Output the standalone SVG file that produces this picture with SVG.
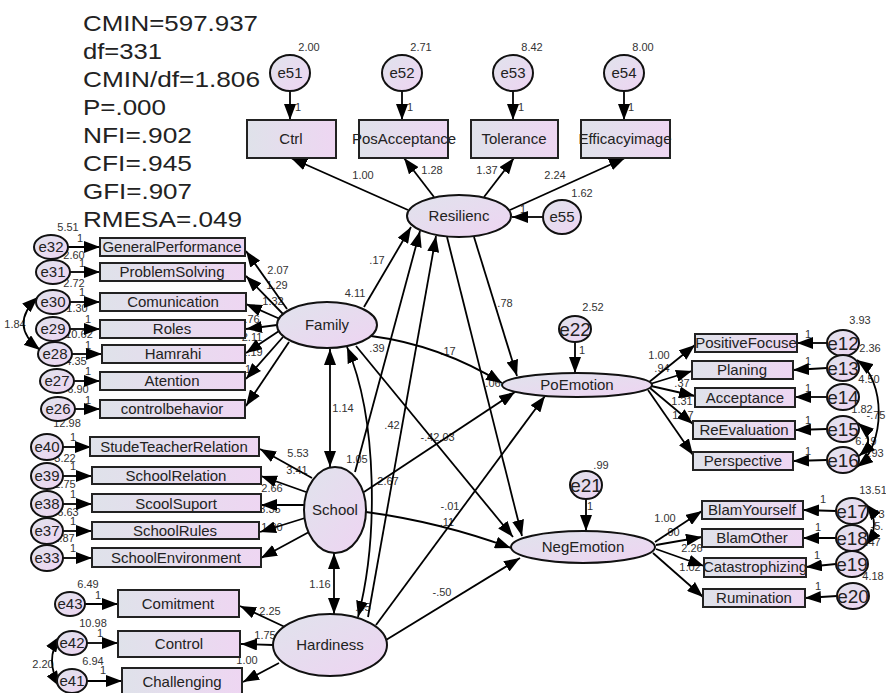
<svg xmlns="http://www.w3.org/2000/svg" width="886" height="693" viewBox="0 0 886 693">
<defs>
<linearGradient id="gb" x1="0" y1="0" x2="1" y2="0"><stop offset="0" stop-color="#dfe2ea"/><stop offset="1" stop-color="#eed6f2"/></linearGradient>
<linearGradient id="ge" x1="0" y1="0" x2="1" y2="1"><stop offset="0" stop-color="#e0e3ec"/><stop offset="1" stop-color="#eed4f2"/></linearGradient>
<marker id="ah" markerUnits="userSpaceOnUse" markerWidth="16" markerHeight="12" refX="16" refY="6" orient="auto-start-reverse" viewBox="0 0 16 12"><path d="M0,0 L16,6 L0,12 z" fill="#000"/></marker>
<style>
.c{stroke:#000;stroke-width:1.8;fill:none;marker-end:url(#ah)}
.d{stroke:#000;stroke-width:1.8;fill:none;marker-end:url(#ah);marker-start:url(#ah)}
.b{fill:url(#gb);stroke:#222;stroke-width:2}
.e{fill:url(#ge);stroke:#111;stroke-width:2}
.t{font-family:"Liberation Sans",Arial,sans-serif;font-size:15px;fill:#222;text-anchor:middle}
.et{font-family:"Liberation Sans",Arial,sans-serif;font-size:15px;fill:#222;text-anchor:middle}
.er{font-family:"Liberation Sans",Arial,sans-serif;font-size:19px;fill:#222;text-anchor:middle}
.n{font-family:"Liberation Sans",Arial,sans-serif;font-size:11px;fill:#333;text-anchor:middle}
.s{font-family:"Liberation Sans",Arial,sans-serif;font-size:22.5px;fill:#222}
</style>
</defs>
<rect width="886" height="693" fill="#fff"/>

<g id="fit">
<text class="s" x="83" y="31" textLength="175" lengthAdjust="spacingAndGlyphs">CMIN=597.937</text>
<text class="s" x="83" y="59" textLength="79" lengthAdjust="spacingAndGlyphs">df=331</text>
<text class="s" x="83" y="87" textLength="177" lengthAdjust="spacingAndGlyphs">CMIN/df=1.806</text>
<text class="s" x="83" y="115" textLength="83" lengthAdjust="spacingAndGlyphs">P=.000</text>
<text class="s" x="83" y="143" textLength="109" lengthAdjust="spacingAndGlyphs">NFI=.902</text>
<text class="s" x="83" y="171" textLength="109" lengthAdjust="spacingAndGlyphs">CFI=.945</text>
<text class="s" x="83" y="199" textLength="109" lengthAdjust="spacingAndGlyphs">GFI=.907</text>
<text class="s" x="83" y="227" textLength="159" lengthAdjust="spacingAndGlyphs">RMESA=.049</text>
</g>

<g id="labels">
<text class="n" x="309" y="51">2.00</text><text class="n" x="421" y="51">2.71</text><text class="n" x="532" y="51">8.42</text><text class="n" x="643" y="51">8.00</text>
<text class="n" x="298" y="111">1</text><text class="n" x="410" y="111">1</text><text class="n" x="521" y="111">1</text><text class="n" x="631" y="111">1</text>
<text class="n" x="363" y="179">1.00</text><text class="n" x="432" y="174">1.28</text><text class="n" x="487" y="174">1.37</text><text class="n" x="555" y="179">2.24</text>
<text class="n" x="582" y="197">1.62</text><text class="n" x="523" y="213">1</text>
<text class="n" x="68" y="231">5.51</text>
<text class="n" x="80" y="242">1</text><text class="n" x="82" y="267">1</text><text class="n" x="82" y="296">1</text><text class="n" x="88" y="323">1</text><text class="n" x="88" y="349">1</text><text class="n" x="88" y="375">1</text><text class="n" x="88" y="404">1</text>
<text class="n" x="74" y="259">2.60</text><text class="n" x="74" y="287">2.72</text><text class="n" x="77" y="312">1.30</text><text class="n" x="79" y="338">10.62</text><text class="n" x="76" y="365">4.35</text><text class="n" x="78" y="393">6.90</text>
<text class="n" x="15" y="328">1.84</text>
<text class="n" x="278" y="274">2.07</text><text class="n" x="277" y="289">1.29</text><text class="n" x="273" y="305">1.32</text><text class="n" x="252" y="323">.76</text><text class="n" x="252" y="341">2.11</text><text class="n" x="252" y="356">1.19</text><text class="n" x="248" y="373">1</text>
<text class="n" x="355" y="297">4.11</text><text class="n" x="377" y="264">.17</text><text class="n" x="377" y="352">.39</text><text class="n" x="448" y="355">.17</text><text class="n" x="505" y="307">.78</text>
<text class="n" x="67" y="427">12.98</text><text class="n" x="65" y="462">3.22</text><text class="n" x="65" y="488">2.75</text><text class="n" x="68" y="516">6.63</text><text class="n" x="64" y="542">2.87</text>
<text class="n" x="73" y="441">1</text><text class="n" x="73" y="470">1</text><text class="n" x="73" y="498">1</text><text class="n" x="73" y="525">1</text><text class="n" x="73" y="552">1</text>
<text class="n" x="298" y="457">5.53</text><text class="n" x="297" y="474">3.41</text><text class="n" x="272" y="492">2.66</text><text class="n" x="270" y="513">3.35</text><text class="n" x="272" y="531">1.00</text>
<text class="n" x="343" y="412">1.14</text><text class="n" x="357" y="463">1.05</text><text class="n" x="388" y="485">2.67</text><text class="n" x="392" y="429">.42</text>
<text class="n" x="430" y="441">-.42</text><text class="n" x="447" y="441">.03</text><text class="n" x="450" y="510">-.01</text><text class="n" x="447" y="526">.11</text><text class="n" x="442" y="596">-.50</text>
<text class="n" x="320" y="588">1.16</text><text class="n" x="363" y="611">.45</text><text class="n" x="493" y="387">.06</text>
<text class="n" x="88" y="588">6.49</text><text class="n" x="93" y="627">10.98</text><text class="n" x="93" y="665">6.94</text><text class="n" x="43" y="668">2.20</text>
<text class="n" x="98" y="599">1</text><text class="n" x="100" y="637">1</text><text class="n" x="103" y="674">1</text>
<text class="n" x="270" y="615">2.25</text><text class="n" x="265" y="639">1.75</text><text class="n" x="247" y="664">1.00</text>
<text class="n" x="593" y="311">2.52</text><text class="n" x="582" y="354">1</text>
<text class="n" x="659" y="359">1.00</text><text class="n" x="662" y="372">.94</text><text class="n" x="682" y="387">.37</text><text class="n" x="682" y="405">1.31</text><text class="n" x="683" y="419">1.17</text>
<text class="n" x="860" y="324">3.93</text><text class="n" x="870" y="352">2.36</text><text class="n" x="869" y="383">4.50</text><text class="n" x="862" y="413">1.82</text><text class="n" x="876" y="419">-.75</text><text class="n" x="866" y="445">6.19</text><text class="n" x="876" y="457">.93</text>
<text class="n" x="808" y="338">1</text><text class="n" x="808" y="365">1</text><text class="n" x="808" y="392">1</text><text class="n" x="808" y="424">1</text><text class="n" x="808" y="455">1</text>
<text class="n" x="601" y="469">.99</text><text class="n" x="590" y="510">1</text>
<text class="n" x="665" y="522">1.00</text><text class="n" x="672" y="536">.90</text><text class="n" x="692" y="552">2.26</text><text class="n" x="690" y="571">1.02</text>
<text class="n" x="873" y="494">13.51</text><text class="n" x="877" y="518">.73</text><text class="n" x="877" y="530">-5.</text><text class="n" x="873" y="546">.47</text><text class="n" x="873" y="580">4.18</text>
<text class="n" x="823" y="503">1</text><text class="n" x="818" y="531">1</text><text class="n" x="817" y="559">1</text><text class="n" x="818" y="590">1</text>
</g>

<g id="connectors">
<line class="c" x1="290" y1="91" x2="290" y2="120"/>
<line class="c" x1="402" y1="91" x2="402" y2="120"/>
<line class="c" x1="513" y1="91" x2="513" y2="120"/>
<line class="c" x1="624" y1="91" x2="624" y2="120"/>
<line class="c" x1="408" y1="210" x2="291" y2="158"/>
<line class="c" x1="434" y1="197" x2="404" y2="158"/>
<line class="c" x1="484" y1="197" x2="514" y2="158"/>
<line class="c" x1="510" y1="210" x2="625" y2="158"/>
<line class="c" x1="543" y1="217" x2="512" y2="217"/>
<line class="c" x1="287" y1="309" x2="246" y2="251"/>
<line class="c" x1="283" y1="314" x2="246" y2="276"/>
<line class="c" x1="280" y1="319" x2="246" y2="304"/>
<line class="c" x1="277" y1="325" x2="246" y2="329"/>
<line class="c" x1="279" y1="331" x2="246" y2="353"/>
<line class="c" x1="283" y1="337" x2="246" y2="379"/>
<line class="c" x1="289" y1="342" x2="246" y2="406"/>
<line class="c" x1="67" y1="247" x2="100" y2="247"/>
<line class="c" x1="70" y1="272" x2="100" y2="272"/>
<line class="c" x1="70" y1="302" x2="100" y2="302"/>
<line class="c" x1="70" y1="329" x2="100" y2="329"/>
<line class="c" x1="72" y1="354" x2="102" y2="354"/>
<line class="c" x1="74" y1="381" x2="100" y2="381"/>
<line class="c" x1="75" y1="409" x2="100" y2="409"/>
<path class="d" d="M38,297 Q8,325 40,350"/>
<line class="c" x1="312" y1="478" x2="260" y2="449"/>
<line class="c" x1="306" y1="492" x2="261" y2="476"/>
<line class="c" x1="305" y1="505" x2="261" y2="505"/>
<line class="c" x1="305" y1="518" x2="260" y2="532"/>
<line class="c" x1="309" y1="532" x2="261" y2="558"/>
<line class="c" x1="63" y1="447" x2="91" y2="447"/>
<line class="c" x1="63" y1="476" x2="92" y2="476"/>
<line class="c" x1="63" y1="504" x2="92" y2="504"/>
<line class="c" x1="63" y1="531" x2="92" y2="531"/>
<line class="c" x1="63" y1="558" x2="92" y2="558"/>
<line class="c" x1="285" y1="627" x2="240" y2="606"/>
<line class="c" x1="273" y1="645" x2="241" y2="644"/>
<line class="c" x1="279" y1="663" x2="243" y2="682"/>
<line class="c" x1="85" y1="604" x2="118" y2="604"/>
<line class="c" x1="87" y1="643" x2="118" y2="643"/>
<line class="c" x1="87" y1="681" x2="122" y2="681"/>
<path class="d" d="M60,636 Q44,660 60,687"/>
<line class="c" x1="364" y1="307" x2="411" y2="227"/>
<line class="c" x1="355" y1="472" x2="420" y2="231"/>
<line class="c" x1="368" y1="617" x2="436" y2="236"/>
<line class="c" x1="474" y1="237" x2="517" y2="376"/>
<line class="c" x1="447" y1="237" x2="522" y2="536"/>
<path class="c" d="M371,336 Q440,345 502,383"/>
<line class="c" x1="356" y1="346" x2="513" y2="537"/>
<path class="c" d="M366,512 Q440,522 511,548"/>
<line class="c" x1="386" y1="640" x2="520" y2="558"/>
<line class="c" x1="364" y1="492" x2="515" y2="392"/>
<line class="c" x1="376" y1="625" x2="545" y2="396"/>
<line class="d" x1="330" y1="349" x2="330" y2="467"/>
<line class="d" x1="334" y1="553" x2="334" y2="614"/>
<path class="d" d="M347,347 C378,420 378,540 358,617"/>
<line class="c" x1="575" y1="342" x2="575" y2="373"/>
<line class="c" x1="586" y1="499" x2="586" y2="531"/>
<line class="c" x1="648" y1="383" x2="695" y2="345"/>
<line class="c" x1="650" y1="384" x2="692" y2="371"/>
<line class="c" x1="651" y1="386" x2="695" y2="396"/>
<line class="c" x1="650" y1="388" x2="693" y2="424"/>
<line class="c" x1="648" y1="390" x2="693" y2="455"/>
<line class="c" x1="827" y1="343" x2="797" y2="343"/>
<line class="c" x1="827" y1="368" x2="793" y2="370"/>
<line class="c" x1="827" y1="397" x2="795" y2="397"/>
<line class="c" x1="827" y1="429" x2="795" y2="430"/>
<line class="c" x1="827" y1="460" x2="793" y2="461"/>
<path class="d" d="M857,360 C886,380 886,445 857,467"/>
<path class="d" d="M858,423 Q878,440 859,456"/>
<line class="c" x1="655" y1="542" x2="702" y2="511"/>
<line class="c" x1="656" y1="545" x2="702" y2="537"/>
<line class="c" x1="656" y1="549" x2="704" y2="566"/>
<line class="c" x1="653" y1="553" x2="703" y2="597"/>
<line class="c" x1="836" y1="511" x2="803" y2="510"/>
<line class="c" x1="836" y1="538" x2="803" y2="538"/>
<line class="c" x1="836" y1="564" x2="806" y2="567"/>
<line class="c" x1="837" y1="596" x2="805" y2="598"/>
<path class="d" d="M866,504 Q882,524 866,545"/>
</g>

<g id="e51"><ellipse class="e" cx="290" cy="73" rx="20" ry="18"/><text class="et" x="290" y="78">e51</text></g>
<g id="e52"><ellipse class="e" cx="402" cy="73" rx="20" ry="18"/><text class="et" x="402" y="78">e52</text></g>
<g id="e53"><ellipse class="e" cx="513" cy="73" rx="20" ry="18"/><text class="et" x="513" y="78">e53</text></g>
<g id="e54"><ellipse class="e" cx="624" cy="73" rx="20" ry="18"/><text class="et" x="624" y="78">e54</text></g>
<g id="Ctrl"><rect class="b" x="247" y="120" width="89" height="38"/><text class="t" x="291" y="144">Ctrl</text></g>
<g id="PosAcceptance"><rect class="b" x="359" y="120" width="89" height="38"/><text class="t" x="404" y="144">PosAcceptance</text></g>
<g id="Tolerance"><rect class="b" x="471" y="120" width="87" height="38"/><text class="t" x="514" y="144">Tolerance</text></g>
<g id="Efficacyimage"><rect class="b" x="581" y="120" width="89" height="38"/><text class="t" x="625" y="144">Efficacyimage</text></g>
<g id="Resilienc"><ellipse class="e" cx="459" cy="216" rx="52" ry="21"/><text class="t" x="459" y="221">Resilienc</text></g>
<g id="e55"><ellipse class="e" cx="562" cy="217" rx="19" ry="17"/><text class="et" x="562" y="222">e55</text></g>

<g id="e32"><ellipse class="e" cx="51" cy="247" rx="17" ry="12"/><text class="et" x="51" y="252">e32</text></g>
<g id="e31"><ellipse class="e" cx="53" cy="272" rx="17" ry="12"/><text class="et" x="53" y="277">e31</text></g>
<g id="e30"><ellipse class="e" cx="53" cy="302" rx="17" ry="12"/><text class="et" x="53" y="307">e30</text></g>
<g id="e29"><ellipse class="e" cx="53" cy="329" rx="17" ry="12"/><text class="et" x="53" y="334">e29</text></g>
<g id="e28"><ellipse class="e" cx="55" cy="354" rx="17" ry="12"/><text class="et" x="55" y="359">e28</text></g>
<g id="e27"><ellipse class="e" cx="57" cy="381" rx="17" ry="12"/><text class="et" x="57" y="386">e27</text></g>
<g id="e26"><ellipse class="e" cx="58" cy="409" rx="17" ry="12"/><text class="et" x="58" y="414">e26</text></g>
<g id="GeneralPerformance"><rect class="b" x="100" y="238" width="145" height="18"/><text class="t" x="172" y="252">GeneralPerformance</text></g>
<g id="ProblemSolving"><rect class="b" x="100" y="263" width="145" height="18"/><text class="t" x="172" y="277">ProblemSolving</text></g>
<g id="Comunication"><rect class="b" x="100" y="293" width="146" height="18"/><text class="t" x="173" y="307">Comunication</text></g>
<g id="Roles"><rect class="b" x="100" y="320" width="145" height="18"/><text class="t" x="172" y="334">Roles</text></g>
<g id="Hamrahi"><rect class="b" x="102" y="345" width="143" height="18"/><text class="t" x="173" y="359">Hamrahi</text></g>
<g id="Atention"><rect class="b" x="100" y="372" width="145" height="18"/><text class="t" x="172" y="386">Atention</text></g>
<g id="controlbehavior"><rect class="b" x="100" y="400" width="145" height="18"/><text class="t" x="172" y="414">controlbehavior</text></g>
<g id="Family"><ellipse class="e" cx="327" cy="325" rx="50" ry="23"/><text class="t" x="327" y="330">Family</text></g>

<g id="e40"><ellipse class="e" cx="47" cy="447" rx="16" ry="13"/><text class="et" x="47" y="452">e40</text></g>
<g id="e39"><ellipse class="e" cx="47" cy="476" rx="16" ry="13"/><text class="et" x="47" y="481">e39</text></g>
<g id="e38"><ellipse class="e" cx="47" cy="504" rx="16" ry="13"/><text class="et" x="47" y="509">e38</text></g>
<g id="e37"><ellipse class="e" cx="47" cy="531" rx="16" ry="13"/><text class="et" x="47" y="536">e37</text></g>
<g id="e33"><ellipse class="e" cx="47" cy="558" rx="16" ry="13"/><text class="et" x="47" y="563">e33</text></g>
<g id="StudeTeacherRelation"><rect class="b" x="90" y="437" width="169" height="19"/><text class="t" x="174" y="452">StudeTeacherRelation</text></g>
<g id="SchoolRelation"><rect class="b" x="92" y="467" width="169" height="17"/><text class="t" x="176" y="481">SchoolRelation</text></g>
<g id="ScoolSuport"><rect class="b" x="92" y="494" width="169" height="18"/><text class="t" x="176" y="509">ScoolSuport</text></g>
<g id="SchoolRules"><rect class="b" x="92" y="522" width="167" height="17"/><text class="t" x="175" y="536">SchoolRules</text></g>
<g id="SchoolEnvironment"><rect class="b" x="92" y="548" width="169" height="19"/><text class="t" x="176" y="563">SchoolEnvironment</text></g>
<g id="School"><ellipse class="e" cx="335" cy="510" rx="31" ry="43"/><text class="t" x="335" y="515">School</text></g>

<g id="e43"><ellipse class="e" cx="70" cy="604" rx="15" ry="12"/><text class="et" x="70" y="609">e43</text></g>
<g id="e42"><ellipse class="e" cx="72" cy="643" rx="15" ry="12"/><text class="et" x="72" y="648">e42</text></g>
<g id="e41"><ellipse class="e" cx="72" cy="681" rx="15" ry="12"/><text class="et" x="72" y="686">e41</text></g>
<g id="Comitment"><rect class="b" x="118" y="590" width="121" height="27"/><text class="t" x="178" y="609">Comitment</text></g>
<g id="Control"><rect class="b" x="118" y="631" width="122" height="26"/><text class="t" x="179" y="649">Control</text></g>
<g id="Challenging"><rect class="b" x="122" y="668" width="120" height="27"/><text class="t" x="182" y="687">Challenging</text></g>
<g id="Hardiness"><ellipse class="e" cx="330" cy="645" rx="57" ry="31"/><text class="t" x="330" y="650">Hardiness</text></g>

<g id="e22"><ellipse class="e" cx="575" cy="329" rx="16" ry="13"/><text class="er" x="575" y="336">e22</text></g>
<g id="PoEmotion"><ellipse class="e" cx="577" cy="385" rx="75" ry="12"/><text class="t" x="577" y="390">PoEmotion</text></g>
<g id="e21"><ellipse class="e" cx="586" cy="485" rx="16" ry="14"/><text class="er" x="586" y="492">e21</text></g>
<g id="NegEmotion"><ellipse class="e" cx="583" cy="547" rx="72" ry="16"/><text class="t" x="583" y="552">NegEmotion</text></g>

<g id="PositiveFocuse"><rect class="b" x="695" y="334" width="102" height="18"/><text class="t" x="746" y="348">PositiveFocuse</text></g>
<g id="Planing"><rect class="b" x="692" y="361" width="101" height="18"/><text class="t" x="742" y="375">Planing</text></g>
<g id="Acceptance"><rect class="b" x="695" y="388" width="100" height="19"/><text class="t" x="745" y="403">Acceptance</text></g>
<g id="ReEvaluation"><rect class="b" x="693" y="421" width="102" height="18"/><text class="t" x="744" y="435">ReEvaluation</text></g>
<g id="Perspective"><rect class="b" x="693" y="452" width="100" height="18"/><text class="t" x="743" y="466">Perspective</text></g>
<g id="e12"><ellipse class="e" cx="843" cy="343" rx="16" ry="13"/><text class="er" x="843" y="350">e12</text></g>
<g id="e13"><ellipse class="e" cx="843" cy="368" rx="16" ry="13"/><text class="er" x="843" y="375">e13</text></g>
<g id="e14"><ellipse class="e" cx="843" cy="397" rx="16" ry="13"/><text class="er" x="843" y="404">e14</text></g>
<g id="e15"><ellipse class="e" cx="843" cy="429" rx="16" ry="13"/><text class="er" x="843" y="436">e15</text></g>
<g id="e16"><ellipse class="e" cx="843" cy="460" rx="16" ry="13"/><text class="er" x="843" y="467">e16</text></g>

<g id="BlamYourself"><rect class="b" x="702" y="501" width="101" height="18"/><text class="t" x="752" y="515">BlamYourself</text></g>
<g id="BlamOther"><rect class="b" x="702" y="529" width="101" height="18"/><text class="t" x="752" y="543">BlamOther</text></g>
<g id="Catastrophizing"><rect class="b" x="704" y="558" width="102" height="19"/><text class="t" x="755" y="572">Catastrophizing</text></g>
<g id="Rumination"><rect class="b" x="703" y="589" width="102" height="18"/><text class="t" x="754" y="603">Rumination</text></g>
<g id="e17"><ellipse class="e" cx="852" cy="511" rx="16" ry="13"/><text class="er" x="852" y="518">e17</text></g>
<g id="e18"><ellipse class="e" cx="852" cy="538" rx="16" ry="13"/><text class="er" x="852" y="545">e18</text></g>
<g id="e19"><ellipse class="e" cx="852" cy="564" rx="16" ry="13"/><text class="er" x="852" y="571">e19</text></g>
<g id="e20"><ellipse class="e" cx="853" cy="596" rx="16" ry="13"/><text class="er" x="853" y="603">e20</text></g>
</svg>
